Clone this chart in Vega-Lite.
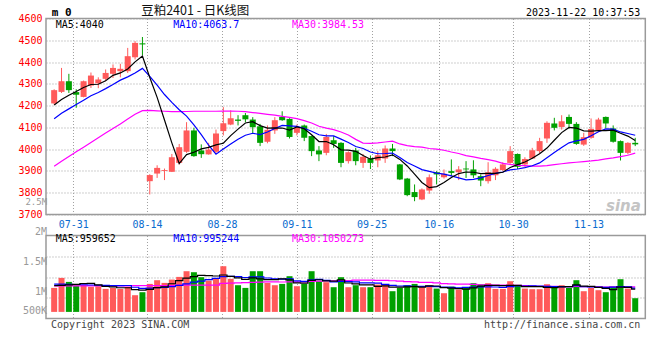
{
"$schema": "https://vega.github.io/schema/vega-lite/v6.json",
"background": "white",
"padding": {"left": 17, "top": 3.5, "right": 5, "bottom": 5},
"spacing": 21,
"bounds": "flush",
"config": {
  "view": {"stroke": "#9a9a9a", "strokeWidth": 1.5},
  "font": "DejaVu Sans Mono",
  "axis": {"ticks": false, "tickSize": 0, "domain": false, "labelFont": "DejaVu Sans Mono", "labelFontSize": 10, "gridColor": "#a0a0a0", "gridDash": [1, 2], "gridWidth": 1, "labelFlush": false, "labelOverlap": false, "labelBound": false}
},
"datasets": {"k": [
{"i":0,"d":"07-26","o":4210,"h":4275,"l":4205,"c":4271,"m5":4203,"m10":4140,"m30":3922,"v":1008000,"vm5":1100000,"vm10":1170000,"vm30":1092000},
{"i":1,"d":"07-27","o":4263,"h":4373,"l":4258,"c":4312,"m5":4228,"m10":4165,"m30":3944,"v":1428000,"vm5":1113000,"vm10":1165000,"vm30":1092000},
{"i":2,"d":"07-28","o":4312,"h":4346,"l":4258,"c":4271,"m5":4248,"m10":4185,"m30":3966,"v":1260000,"vm5":1134000,"vm10":1160000,"vm30":1092000},
{"i":3,"d":"07-31","o":4262,"h":4275,"l":4190,"c":4250,"m5":4265,"m10":4205,"m30":3988,"v":1121000,"vm5":1155000,"vm10":1150000,"vm30":1092000},
{"i":4,"d":"08-01","o":4240,"h":4315,"l":4238,"c":4312,"m5":4283,"m10":4225,"m30":4009,"v":1147000,"vm5":1193000,"vm10":1140000,"vm30":1092000},
{"i":5,"d":"08-02","o":4292,"h":4352,"l":4281,"c":4338,"m5":4297,"m10":4245,"m30":4031,"v":1050000,"vm5":1201000,"vm10":1130000,"vm30":1092000},
{"i":6,"d":"08-03","o":4302,"h":4330,"l":4280,"c":4320,"m5":4298,"m10":4260,"m30":4052,"v":1079000,"vm5":1131000,"vm10":1120000,"vm30":1092000},
{"i":7,"d":"08-04","o":4323,"h":4366,"l":4312,"c":4350,"m5":4314,"m10":4278,"m30":4074,"v":966000,"vm5":1073000,"vm10":1110000,"vm30":1092000},
{"i":8,"d":"08-07","o":4346,"h":4389,"l":4327,"c":4373,"m5":4339,"m10":4297,"m30":4095,"v":1008000,"vm5":1050000,"vm10":1105000,"vm30":1092000},
{"i":9,"d":"08-08","o":4358,"h":4392,"l":4330,"c":4369,"m5":4350,"m10":4317,"m30":4116,"v":966000,"vm5":1014000,"vm10":1103000,"vm30":1092000},
{"i":10,"d":"08-09","o":4358,"h":4465,"l":4350,"c":4427,"m5":4368,"m10":4332,"m30":4138,"v":1050000,"vm5":1014000,"vm10":1108000,"vm30":1092000},
{"i":11,"d":"08-10","o":4422,"h":4496,"l":4412,"c":4488,"m5":4401,"m10":4350,"m30":4160,"v":701000,"vm5":938000,"vm10":1035000,"vm30":1105000},
{"i":12,"d":"08-11","o":4486,"h":4515,"l":4432,"c":4481,"m5":4428,"m10":4371,"m30":4177,"v":827000,"vm5":911000,"vm10":992000,"vm30":1105000},
{"i":13,"d":"08-14","o":3853,"h":3885,"l":3792,"c":3881,"m5":4329,"m10":4334,"m30":4178,"v":1176000,"vm5":944000,"vm10":997000,"vm30":1105000},
{"i":14,"d":"08-15","o":3888,"h":3926,"l":3868,"c":3914,"m5":4238,"m10":4294,"m30":4176,"v":1331000,"vm5":1017000,"vm10":1016000,"vm30":1105000},
{"i":15,"d":"08-16","o":3900,"h":3911,"l":3858,"c":3904,"m5":4134,"m10":4251,"m30":4174,"v":1218000,"vm5":1051000,"vm10":1032000,"vm30":1105000},
{"i":16,"d":"08-17","o":3896,"h":3978,"l":3895,"c":3963,"m5":4029,"m10":4215,"m30":4172,"v":1357000,"vm5":1182000,"vm10":1060000,"vm30":1105000},
{"i":17,"d":"08-18","o":3937,"h":4024,"l":3930,"c":4009,"m5":3934,"m10":4181,"m30":4172,"v":1470000,"vm5":1310000,"vm10":1110000,"vm30":1126000},
{"i":18,"d":"08-21","o":3988,"h":4124,"l":3983,"c":4086,"m5":3975,"m10":4152,"m30":4173,"v":1709000,"vm5":1417000,"vm10":1181000,"vm30":1126000},
{"i":19,"d":"08-22","o":4086,"h":4098,"l":3965,"c":3968,"m5":3986,"m10":4112,"m30":4174,"v":1667000,"vm5":1484000,"vm10":1251000,"vm30":1126000},
{"i":20,"d":"08-23","o":3994,"h":4022,"l":3960,"c":3977,"m5":4001,"m10":4067,"m30":4174,"v":1457000,"vm5":1532000,"vm10":1292000,"vm30":1126000},
{"i":21,"d":"08-24","o":3976,"h":4029,"l":3975,"c":3998,"m5":4008,"m10":4018,"m30":4174,"v":1315000,"vm5":1524000,"vm10":1353000,"vm30":1126000},
{"i":22,"d":"08-25","o":3988,"h":4090,"l":3978,"c":4072,"m5":4020,"m10":3977,"m30":4174,"v":1386000,"vm5":1507000,"vm10":1409000,"vm30":1126000},
{"i":23,"d":"08-28","o":4083,"h":4193,"l":4063,"c":4119,"m5":4027,"m10":4001,"m30":4175,"v":1919000,"vm5":1549000,"vm10":1483000,"vm30":1197000},
{"i":24,"d":"08-29","o":4113,"h":4178,"l":4110,"c":4142,"m5":4062,"m10":4024,"m30":4175,"v":1386000,"vm5":1493000,"vm10":1488000,"vm30":1210000},
{"i":25,"d":"08-30","o":4136,"h":4156,"l":4109,"c":4130,"m5":4092,"m10":4046,"m30":4174,"v":1121000,"vm5":1425000,"vm10":1479000,"vm30":1218000},
{"i":26,"d":"08-31","o":4156,"h":4166,"l":4124,"c":4137,"m5":4120,"m10":4064,"m30":4172,"v":1008000,"vm5":1364000,"vm10":1444000,"vm30":1226000},
{"i":27,"d":"09-01","o":4136,"h":4147,"l":4070,"c":4101,"m5":4126,"m10":4073,"m30":4168,"v":1709000,"vm5":1429000,"vm10":1468000,"vm30":1239000},
{"i":28,"d":"09-04","o":4105,"h":4116,"l":4014,"c":4029,"m5":4108,"m10":4067,"m30":4164,"v":1709000,"vm5":1387000,"vm10":1468000,"vm30":1247000},
{"i":29,"d":"09-05","o":4034,"h":4109,"l":4027,"c":4089,"m5":4097,"m10":4079,"m30":4160,"v":1218000,"vm5":1353000,"vm10":1423000,"vm30":1259000},
{"i":30,"d":"09-06","o":4086,"h":4147,"l":4070,"c":4133,"m5":4098,"m10":4095,"m30":4156,"v":1121000,"vm5":1353000,"vm10":1389000,"vm30":1263000},
{"i":31,"d":"09-07","o":4148,"h":4174,"l":4130,"c":4133,"m5":4097,"m10":4109,"m30":4151,"v":1176000,"vm5":1387000,"vm10":1376000,"vm30":1255000},
{"i":32,"d":"09-08","o":4139,"h":4142,"l":4049,"c":4056,"m5":4088,"m10":4107,"m30":4146,"v":1499000,"vm5":1345000,"vm10":1387000,"vm30":1263000},
{"i":33,"d":"09-11","o":4075,"h":4113,"l":4063,"c":4098,"m5":4102,"m10":4105,"m30":4140,"v":1079000,"vm5":1219000,"vm10":1303000,"vm30":1261000},
{"i":34,"d":"09-12","o":4109,"h":4113,"l":4037,"c":4052,"m5":4094,"m10":4096,"m30":4131,"v":1176000,"vm5":1210000,"vm10":1282000,"vm30":1262000},
{"i":35,"d":"09-13","o":4060,"h":4062,"l":3968,"c":3991,"m5":4066,"m10":4082,"m30":4120,"v":1709000,"vm5":1328000,"vm10":1341000,"vm30":1284000},
{"i":36,"d":"09-14","o":3994,"h":4014,"l":3945,"c":3976,"m5":4035,"m10":4066,"m30":4105,"v":1289000,"vm5":1351000,"vm10":1369000,"vm30":1291000},
{"i":37,"d":"09-15","o":3983,"h":4070,"l":3972,"c":4056,"m5":4035,"m10":4061,"m30":4097,"v":1247000,"vm5":1300000,"vm10":1323000,"vm30":1300000},
{"i":38,"d":"09-18","o":4041,"h":4060,"l":4006,"c":4024,"m5":4020,"m10":4061,"m30":4090,"v":1037000,"vm5":1292000,"vm10":1255000,"vm30":1301000},
{"i":39,"d":"09-19","o":4029,"h":4032,"l":3917,"c":3937,"m5":3997,"m10":4046,"m30":4079,"v":1457000,"vm5":1348000,"vm10":1279000,"vm30":1318000},
{"i":40,"d":"09-20","o":3945,"h":3990,"l":3934,"c":3986,"m5":3996,"m10":4031,"m30":4065,"v":1037000,"vm5":1214000,"vm10":1271000,"vm30":1317000},
{"i":41,"d":"09-21","o":3994,"h":4006,"l":3926,"c":3945,"m5":3990,"m10":4012,"m30":4045,"v":1121000,"vm5":1180000,"vm10":1265000,"vm30":1331000},
{"i":42,"d":"09-22","o":3937,"h":3978,"l":3914,"c":3965,"m5":3971,"m10":4003,"m30":4028,"v":1037000,"vm5":1138000,"vm10":1219000,"vm30":1338000},
{"i":43,"d":"09-25","o":3957,"h":3971,"l":3909,"c":3937,"m5":3954,"m10":3987,"m30":4027,"v":1037000,"vm5":1138000,"vm10":1215000,"vm30":1334000},
{"i":44,"d":"09-26","o":3948,"h":3991,"l":3917,"c":3972,"m5":3961,"m10":3979,"m30":4029,"v":1147000,"vm5":1076000,"vm10":1212000,"vm30":1328000},
{"i":45,"d":"09-27","o":3957,"h":4017,"l":3937,"c":4003,"m5":3964,"m10":3980,"m30":4033,"v":1121000,"vm5":1093000,"vm10":1153000,"vm30":1324000},
{"i":46,"d":"09-28","o":4003,"h":4024,"l":3968,"c":3991,"m5":3974,"m10":3982,"m30":4037,"v":869000,"vm5":1042000,"vm10":1111000,"vm30":1308000},
{"i":47,"d":"10-09","o":3930,"h":3932,"l":3858,"c":3861,"m5":3953,"m10":3962,"m30":4024,"v":1008000,"vm5":1037000,"vm10":1087000,"vm30":1293000},
{"i":48,"d":"10-10","o":3865,"h":3868,"l":3784,"c":3789,"m5":3923,"m10":3939,"m30":4016,"v":1121000,"vm5":1053000,"vm10":1096000,"vm30":1273000},
{"i":49,"d":"10-11","o":3803,"h":3838,"l":3761,"c":3780,"m5":3885,"m10":3923,"m30":4012,"v":1176000,"vm5":1059000,"vm10":1068000,"vm30":1257000},
{"i":50,"d":"10-12","o":3769,"h":3820,"l":3766,"c":3815,"m5":3847,"m10":3906,"m30":4009,"v":1037000,"vm5":1042000,"vm10":1068000,"vm30":1243000},
{"i":51,"d":"10-13","o":3810,"h":3884,"l":3795,"c":3871,"m5":3823,"m10":3898,"m30":4003,"v":1121000,"vm5":1093000,"vm10":1068000,"vm30":1236000},
{"i":52,"d":"10-16","o":3894,"h":3899,"l":3838,"c":3884,"m5":3828,"m10":3890,"m30":4000,"v":979000,"vm5":1087000,"vm10":1062000,"vm30":1223000},
{"i":53,"d":"10-17","o":3871,"h":3907,"l":3865,"c":3887,"m5":3847,"m10":3885,"m30":3995,"v":785000,"vm5":1020000,"vm10":1037000,"vm30":1185000},
{"i":54,"d":"10-18","o":3899,"h":3953,"l":3876,"c":3891,"m5":3870,"m10":3877,"m30":3987,"v":1063000,"vm5":997000,"vm10":1028000,"vm30":1174000},
{"i":55,"d":"10-19","o":3894,"h":3922,"l":3858,"c":3907,"m5":3888,"m10":3868,"m30":3980,"v":937000,"vm5":977000,"vm10":1010000,"vm30":1168000},
{"i":56,"d":"10-20","o":3911,"h":3945,"l":3868,"c":3907,"m5":3895,"m10":3859,"m30":3970,"v":1037000,"vm5":960000,"vm10":1026000,"vm30":1169000},
{"i":57,"d":"10-23","o":3907,"h":3949,"l":3868,"c":3880,"m5":3894,"m10":3861,"m30":3965,"v":1205000,"vm5":1005000,"vm10":1046000,"vm30":1152000},
{"i":58,"d":"10-24","o":3876,"h":3884,"l":3830,"c":3856,"m5":3888,"m10":3868,"m30":3958,"v":1163000,"vm5":1081000,"vm10":1050000,"vm30":1134000},
{"i":59,"d":"10-25","o":3853,"h":3940,"l":3842,"c":3894,"m5":3889,"m10":3879,"m30":3952,"v":1205000,"vm5":1110000,"vm10":1053000,"vm30":1134000},
{"i":60,"d":"10-26","o":3880,"h":3917,"l":3858,"c":3910,"m5":3889,"m10":3889,"m30":3945,"v":966000,"vm5":1116000,"vm10":1046000,"vm30":1128000},
{"i":61,"d":"10-27","o":3904,"h":3940,"l":3900,"c":3930,"m5":3894,"m10":3895,"m30":3935,"v":966000,"vm5":1101000,"vm10":1031000,"vm30":1121000},
{"i":62,"d":"10-30","o":3937,"h":4014,"l":3933,"c":3991,"m5":3916,"m10":3905,"m30":3930,"v":1289000,"vm5":1118000,"vm10":1062000,"vm30":1114000},
{"i":63,"d":"10-31","o":3978,"h":3980,"l":3909,"c":3919,"m5":3929,"m10":3909,"m30":3926,"v":1121000,"vm5":1110000,"vm10":1095000,"vm30":1116000},
{"i":64,"d":"11-01","o":3930,"h":3963,"l":3919,"c":3955,"m5":3941,"m10":3915,"m30":3924,"v":979000,"vm5":1064000,"vm10":1087000,"vm30":1109000},
{"i":65,"d":"11-02","o":3957,"h":4006,"l":3955,"c":3995,"m5":3958,"m10":3924,"m30":3922,"v":953000,"vm5":1062000,"vm10":1089000,"vm30":1084000},
{"i":66,"d":"11-03","o":3991,"h":4052,"l":3980,"c":4037,"m5":3979,"m10":3937,"m30":3922,"v":953000,"vm5":1059000,"vm10":1080000,"vm30":1073000},
{"i":67,"d":"11-06","o":4049,"h":4128,"l":4029,"c":4121,"m5":4005,"m10":3961,"m30":3924,"v":1163000,"vm5":1034000,"vm10":1076000,"vm30":1070000},
{"i":68,"d":"11-07","o":4118,"h":4144,"l":4086,"c":4098,"m5":4041,"m10":3985,"m30":3929,"v":1063000,"vm5":1022000,"vm10":1066000,"vm30":1071000},
{"i":69,"d":"11-08","o":4102,"h":4156,"l":4090,"c":4128,"m5":4076,"m10":4008,"m30":3933,"v":1121000,"vm5":1051000,"vm10":1058000,"vm30":1060000},
{"i":70,"d":"11-09","o":4148,"h":4159,"l":4095,"c":4116,"m5":4100,"m10":4029,"m30":3937,"v":1008000,"vm5":1062000,"vm10":1062000,"vm30":1058000},
{"i":71,"d":"11-10","o":4116,"h":4124,"l":4020,"c":4024,"m5":4097,"m10":4038,"m30":3940,"v":1331000,"vm5":1137000,"vm10":1098000,"vm30":1066000},
{"i":72,"d":"11-13","o":4021,"h":4075,"l":4015,"c":4055,"m5":4084,"m10":4045,"m30":3943,"v":869000,"vm5":1079000,"vm10":1056000,"vm30":1060000},
{"i":73,"d":"11-14","o":4052,"h":4141,"l":4048,"c":4093,"m5":4083,"m10":4062,"m30":3946,"v":1008000,"vm5":1068000,"vm10":1045000,"vm30":1059000},
{"i":74,"d":"11-15","o":4086,"h":4144,"l":4079,"c":4136,"m5":4085,"m10":4080,"m30":3950,"v":911000,"vm5":1026000,"vm10":1038000,"vm30":1051000},
{"i":75,"d":"11-16","o":4148,"h":4150,"l":4095,"c":4118,"m5":4085,"m10":4093,"m30":3955,"v":827000,"vm5":990000,"vm10":1026000,"vm30":1041000},
{"i":76,"d":"11-17","o":4095,"h":4109,"l":4030,"c":4034,"m5":4087,"m10":4092,"m30":3960,"v":1063000,"vm5":936000,"vm10":1037000,"vm30":1048000},
{"i":77,"d":"11-20","o":4037,"h":4040,"l":3948,"c":3983,"m5":4073,"m10":4079,"m30":3966,"v":1373000,"vm5":1037000,"vm10":1058000,"vm30":1060000},
{"i":78,"d":"11-21","o":3983,"h":4032,"l":3976,"c":4029,"m5":4060,"m10":4072,"m30":3972,"v":979000,"vm5":1031000,"vm10":1049000,"vm30":1055000},
{"i":79,"d":"11-22","o":4029,"h":4052,"l":4014,"c":4022,"m5":4040,"m10":4064,"m30":3982,"v":575000,"vm5":960000,"vm10":995000,"vm30":1050000}
]},
"vconcat": [
{
  "width": 599.3,
  "height": 196,
  "data": {"name": "k"},
  "encoding": {
    "x": {"field": "i", "type": "quantitative", "title": null,
      "scale": {"domain": [-0.43, 79.69], "nice": false, "zero": false},
      "axis": {"values": [2.61, 12.63, 22.83, 33.0, 43.16, 52.29, 62.4, 72.66], "tickCount": 20, "grid": true, "labelColor": "#0a6ccf", "labelPadding": 5, "labelOverlap": false, "labelFlush": false,
        "labelExpr": "datum.value < 5 ? '07-31' : datum.value < 15 ? '08-14' : datum.value < 25 ? '08-28' : datum.value < 35 ? '09-11' : datum.value < 45 ? '09-25' : datum.value < 55 ? '10-16' : datum.value < 65 ? '10-30' : '11-13'"}}
  },
  "layer": [
    {"mark": {"type": "rule", "strokeWidth": 1},
     "encoding": {
       "y": {"field": "l", "type": "quantitative", "title": null,
         "scale": {"domain": [3700, 4600], "nice": false, "zero": false},
         "axis": {"values": [3700, 3800, 3900, 4000, 4100, 4200, 4300, 4400, 4500, 4600], "tickCount": 20, "format": "d", "grid": true, "labelColor": "#ff0000", "labelPadding": 4, "labelOverlap": false, "labelFlush": false}},
       "y2": {"field": "h"},
       "color": {"condition": {"test": "datum.c >= datum.o", "value": "#ff5a5a"}, "value": "#00a000"}
     }},
    {"mark": {"type": "bar", "width": 6},
     "encoding": {
       "y": {"field": "o", "type": "quantitative", "title": null},
       "y2": {"field": "c"},
       "color": {"condition": {"test": "datum.c >= datum.o", "value": "#ff5a5a"}, "value": "#00a000"}
     }},
    {"mark": {"type": "line", "color": "#ff00ff", "strokeWidth": 1.2, "clip": true},
     "encoding": {"y": {"field": "m30", "type": "quantitative", "title": null}}},
    {"mark": {"type": "line", "color": "#0000ff", "strokeWidth": 1.2, "clip": true},
     "encoding": {"y": {"field": "m10", "type": "quantitative", "title": null}}},
    {"mark": {"type": "line", "color": "#000000", "strokeWidth": 1.2, "clip": true},
     "encoding": {"y": {"field": "m5", "type": "quantitative", "title": null}}},
    {"transform": [{"filter": "datum.i == 0"}],
     "mark": {"type": "text", "text": "MA5:4040", "align": "left", "baseline": "middle", "color": "#000000", "font": "DejaVu Sans Mono", "fontSize": 10},
     "encoding": {"x": {"datum": 0.2, "type": "quantitative"}, "y": {"datum": 4570.6, "type": "quantitative"}}},
    {"transform": [{"filter": "datum.i == 0"}],
     "mark": {"type": "text", "text": "MA10:4063.7", "align": "left", "baseline": "middle", "color": "#0000ff", "font": "DejaVu Sans Mono", "fontSize": 10},
     "encoding": {"x": {"datum": 16.19, "type": "quantitative"}, "y": {"datum": 4570.6, "type": "quantitative"}}},
    {"transform": [{"filter": "datum.i == 0"}],
     "mark": {"type": "text", "text": "MA30:3984.53", "align": "left", "baseline": "middle", "color": "#ff00ff", "font": "DejaVu Sans Mono", "fontSize": 10},
     "encoding": {"x": {"datum": 32.33, "type": "quantitative"}, "y": {"datum": 4570.6, "type": "quantitative"}}},
    {"transform": [{"filter": "datum.i == 0"}],
     "mark": {"type": "text", "text": "m 0", "align": "left", "baseline": "middle", "color": "#000000", "font": "DejaVu Sans Mono", "fontSize": 11, "fontWeight": "bold"},
     "encoding": {"x": {"datum": -0.33, "type": "quantitative"}, "y": {"datum": 4623.4, "type": "quantitative"}}},
    {"transform": [{"filter": "datum.i == 0"}],
     "mark": {"type": "text", "text": "豆粕2401 - 日K线图", "align": "left", "baseline": "middle", "color": "#111111", "font": "Noto Sans CJK SC", "fontSize": 12.5},
     "encoding": {"x": {"datum": 11.83, "type": "quantitative"}, "y": {"datum": 4635.8, "type": "quantitative"}}},
    {"transform": [{"filter": "datum.i == 0"}],
     "mark": {"type": "text", "text": "2023-11-22 10:37:53", "align": "right", "baseline": "middle", "color": "#000000", "font": "DejaVu Sans Mono", "fontSize": 10},
     "encoding": {"x": {"datum": 79.69, "type": "quantitative"}, "y": {"datum": 4624.3, "type": "quantitative"}}},
    {"transform": [{"filter": "datum.i == 0"}],
     "mark": {"type": "text", "text": "2.5M", "align": "right", "baseline": "middle", "color": "#999999", "font": "DejaVu Sans Mono", "fontSize": 9},
     "encoding": {"x": {"datum": -0.963, "type": "quantitative"}, "y": {"datum": 3757, "type": "quantitative"}}},
    {"transform": [{"filter": "datum.i == 0"}],
     "mark": {"type": "text", "text": "sina", "align": "center", "baseline": "middle", "color": "#c4c4c4", "font": "DejaVu Sans", "fontSize": 15, "fontWeight": "bold", "fontStyle": "italic"},
     "encoding": {"x": {"datum": 77.4, "type": "quantitative"}, "y": {"datum": 3737, "type": "quantitative"}}}
  ]
},
{
  "width": 599.3,
  "height": 83,
  "data": {"name": "k"},
  "encoding": {
    "x": {"field": "i", "type": "quantitative", "title": null,
      "scale": {"domain": [-0.43, 79.69], "nice": false, "zero": false},
      "axis": {"values": [2.61, 12.63, 22.83, 33.0, 43.16, 52.29, 62.4, 72.66], "tickCount": 20, "grid": true, "labels": false}}
  },
  "layer": [
    {"mark": {"type": "bar", "width": 6},
     "encoding": {
       "y": {"field": "v", "type": "quantitative", "title": null,
         "scale": {"domain": [-277200, 3208800], "nice": false, "zero": false},
         "axis": {"values": [588000, 1457400, 2339400], "tickCount": 20, "grid": true, "labels": false}},
       "y2": {"datum": 0},
       "color": {"condition": {"test": "datum.c >= datum.o", "value": "#ff5a5a"}, "value": "#00a000"}
     }},
    {"mark": {"type": "line", "color": "#ff00ff", "strokeWidth": 1.2, "interpolate": "step"},
     "encoding": {"y": {"field": "vm30", "type": "quantitative", "title": null}}},
    {"mark": {"type": "line", "color": "#0000ff", "strokeWidth": 1.2, "interpolate": "step"},
     "encoding": {"y": {"field": "vm10", "type": "quantitative", "title": null}}},
    {"mark": {"type": "line", "color": "#000000", "strokeWidth": 1.2, "interpolate": "step"},
     "encoding": {"y": {"field": "vm5", "type": "quantitative", "title": null}}},
    {"transform": [{"filter": "datum.i == 0"}],
     "mark": {"type": "text", "text": "MA5:959652", "align": "left", "baseline": "middle", "color": "#000000", "font": "DejaVu Sans Mono", "fontSize": 10},
     "encoding": {"x": {"datum": 0.2, "type": "quantitative"}, "y": {"datum": 3041000, "type": "quantitative"}}},
    {"transform": [{"filter": "datum.i == 0"}],
     "mark": {"type": "text", "text": "MA10:995244", "align": "left", "baseline": "middle", "color": "#0000ff", "font": "DejaVu Sans Mono", "fontSize": 10},
     "encoding": {"x": {"datum": 16.19, "type": "quantitative"}, "y": {"datum": 3041000, "type": "quantitative"}}},
    {"transform": [{"filter": "datum.i == 0"}],
     "mark": {"type": "text", "text": "MA30:1050273", "align": "left", "baseline": "middle", "color": "#ff00ff", "font": "DejaVu Sans Mono", "fontSize": 10},
     "encoding": {"x": {"datum": 32.33, "type": "quantitative"}, "y": {"datum": 3041000, "type": "quantitative"}}},
    {"transform": [{"filter": "datum.i == 0"}],
     "mark": {"type": "text", "text": "2M", "align": "right", "baseline": "middle", "color": "#999999", "font": "DejaVu Sans Mono", "fontSize": 10},
     "encoding": {"x": {"datum": -0.963, "type": "quantitative"}, "y": {"datum": 3360000, "type": "quantitative"}}},
    {"transform": [{"filter": "datum.i == 0"}],
     "mark": {"type": "text", "text": "1.5M", "align": "right", "baseline": "middle", "color": "#999999", "font": "DejaVu Sans Mono", "fontSize": 10},
     "encoding": {"x": {"datum": -0.963, "type": "quantitative"}, "y": {"datum": 2087400, "type": "quantitative"}}},
    {"transform": [{"filter": "datum.i == 0"}],
     "mark": {"type": "text", "text": "1M", "align": "right", "baseline": "middle", "color": "#999999", "font": "DejaVu Sans Mono", "fontSize": 10},
     "encoding": {"x": {"datum": -0.963, "type": "quantitative"}, "y": {"datum": 827400, "type": "quantitative"}}},
    {"transform": [{"filter": "datum.i == 0"}],
     "mark": {"type": "text", "text": "500K", "align": "right", "baseline": "middle", "color": "#999999", "font": "DejaVu Sans Mono", "fontSize": 10},
     "encoding": {"x": {"datum": -0.963, "type": "quantitative"}, "y": {"datum": 29400, "type": "quantitative"}}},
    {"transform": [{"filter": "datum.i == 0"}],
     "mark": {"type": "text", "text": "Copyright 2023 SINA.COM", "align": "left", "baseline": "middle", "color": "#444444", "font": "DejaVu Sans Mono", "fontSize": 10},
     "encoding": {"x": {"datum": -0.43, "type": "quantitative"}, "y": {"datum": -546000, "type": "quantitative"}}},
    {"transform": [{"filter": "datum.i == 0"}],
     "mark": {"type": "text", "text": "http://finance.sina.com.cn", "align": "right", "baseline": "middle", "color": "#444444", "font": "DejaVu Sans Mono", "fontSize": 10},
     "encoding": {"x": {"datum": 79.69, "type": "quantitative"}, "y": {"datum": -546000, "type": "quantitative"}}}
  ]
}
]
}
